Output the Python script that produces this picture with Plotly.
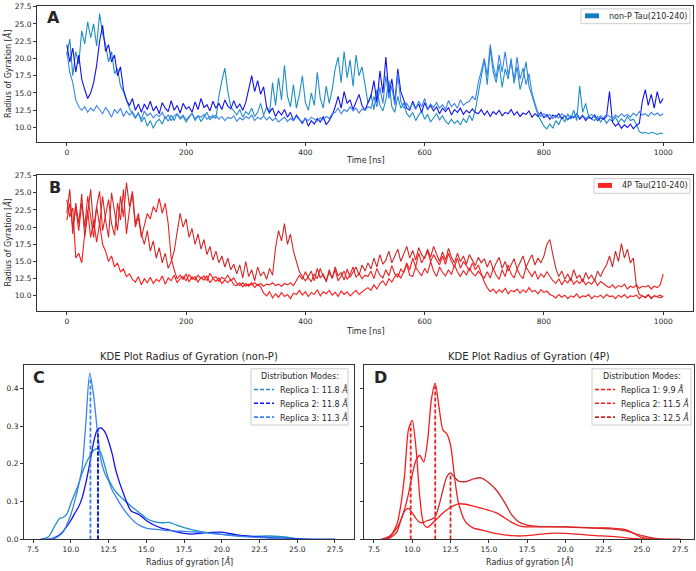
import numpy as np
import plotly.graph_objects as go

W, H = 696, 571

# ---------------- data ----------------
# non-P Tau(210-240): radius of gyration (Å), one value every 5 ns from 0 to 1000 ns
nonp_rep1 = [20.5, 22.8, 17.5, 21.0, 19.2, 24.0, 22.1, 25.3, 23.0, 25.0, 21.8, 26.5, 23.6,
             22.0, 19.5, 21.0, 17.8, 18.5, 16.0, 15.2, 14.0,
             12.8, 12.0, 11.3, 12.2, 10.8, 11.5, 10.2, 11.0, 9.9, 10.8,
             11.2, 10.5, 11.6, 10.9, 11.8, 11.0, 12.0, 11.2, 11.6, 10.8, 11.4, 12.1, 11.0, 11.7, 10.9, 11.5, 12.2, 11.1, 11.8, 11.3,
             14.5, 16.8, 18.6, 15.2, 13.0, 12.4,
             11.8, 12.6, 11.5, 12.3, 11.9, 12.8, 11.6, 12.2, 13.5, 11.8, 12.9, 12.0,
             16.5, 13.2, 17.2, 14.0, 19.0, 14.5, 13.0, 16.2, 12.8, 14.8, 17.5, 13.6, 12.5, 15.0, 13.2, 18.0, 14.2, 12.8, 16.0, 13.5, 15.5,
             18.5, 20.2, 16.5, 21.0, 17.2, 19.8, 16.0, 20.5, 17.5, 18.8, 16.2,
             13.5, 14.8, 12.6, 15.5, 13.2, 12.4, 14.0, 16.8, 13.0, 12.2, 14.5, 12.8, 13.6, 12.0,
             11.5, 12.2, 11.0, 11.8, 12.4, 11.2, 11.9, 10.8, 11.5, 12.0, 11.1, 11.7, 10.9, 10.5, 11.2, 10.6, 11.0, 10.4, 11.3, 10.7, 11.8, 11.0, 12.5,
             15.0, 17.5, 19.8, 16.2, 21.5, 18.0, 16.5, 19.2, 15.8, 18.5, 17.0, 20.0, 16.4, 18.8, 15.5, 17.2, 19.5, 16.0, 14.5, 13.0,
             11.8, 11.0, 10.2, 9.8, 10.5, 9.9, 11.0, 10.4, 11.5, 10.8, 12.0, 11.2, 12.5, 11.0, 16.0, 12.2, 13.5, 11.6, 11.2,
             11.0, 11.6, 10.8, 11.4, 10.6, 11.2, 10.9, 11.5, 10.7, 11.3, 10.8, 11.6, 11.0, 11.2, 10.5,
             9.4, 9.2, 9.3, 9.1, 9.3, 9.2, 9.0, 9.2, 9.1]

nonp_rep2 = [22.0, 19.5, 21.5, 18.0, 20.5,
             17.0, 15.5, 14.2, 15.0, 16.5, 19.0,
             22.5, 24.8, 21.0, 22.0, 19.5, 20.5, 17.5, 18.8,
             15.5, 14.0, 13.2, 14.2, 12.5, 13.4,
             12.2, 13.4, 12.6, 13.8, 12.4, 13.1, 12.0, 13.6, 12.8, 12.3, 13.9, 12.5, 13.2, 12.1, 13.5, 12.7, 13.0, 12.2,
             13.7, 12.6, 14.2, 12.9, 13.3, 12.4, 13.8, 12.8, 13.5, 12.6, 14.0, 13.1, 12.7, 13.9, 12.8, 13.4, 12.5, 13.6,
             15.5, 17.5, 15.2, 16.8, 14.8, 15.9,
             13.0, 12.2, 12.8, 11.6, 12.4, 11.8, 12.6, 11.5, 12.2, 11.0, 11.8,
             11.2, 10.6, 11.4, 10.2, 11.0, 10.5, 11.3, 10.8, 11.6, 10.4, 11.0, 11.8,
             13.0, 14.5, 12.8, 15.2, 13.5, 14.0, 12.6, 13.8, 14.8, 13.2, 12.5, 13.6,
             14.5, 16.8, 13.6, 18.2, 15.0, 20.2, 14.8, 17.0, 13.5, 18.5, 15.2, 14.0, 12.8,
             12.5, 13.8, 12.8, 13.4, 12.2, 13.6, 12.6, 13.2, 12.4, 13.0, 12.0, 12.8, 12.3, 12.9, 11.8, 12.6, 12.2, 12.8, 11.9, 12.5, 12.1, 12.7, 12.2,
             12.0, 12.6, 11.8, 12.4, 11.6, 12.3, 11.9, 12.5, 11.7, 12.2, 12.0, 12.6, 11.8, 12.3, 11.6, 12.1, 11.9, 12.4, 11.5, 12.0,
             11.6, 12.2, 11.4, 11.9, 11.2, 11.8, 11.5, 12.0, 11.3, 11.7, 11.1, 11.6, 11.4, 12.0, 11.2, 11.7, 11.0, 11.5, 11.3, 11.8, 11.0, 11.4, 11.2, 11.6, 15.2,
             10.8, 10.2, 10.6, 9.9, 10.4, 10.0, 10.5, 9.8, 10.3, 10.6,
             13.8, 15.5, 13.2, 14.8, 12.8, 15.2, 13.5, 14.2]

nonp_rep3 = [21.0, 18.0, 16.5, 14.0, 13.0,
             12.5, 13.0, 12.2, 12.8, 12.4, 13.2, 12.6, 12.0, 12.9, 12.3, 11.5, 12.6, 12.1, 12.8, 11.6, 12.4,
             11.8, 12.3, 11.5, 12.0, 11.2, 12.4, 11.7, 12.1, 11.4, 11.9, 11.6, 12.2, 11.3, 11.8, 11.0,
             11.7, 12.0, 11.4, 11.8, 11.1, 11.6, 12.0, 11.3, 11.7, 11.5, 11.9, 11.2, 11.6, 11.4, 11.8,
             11.2, 11.6, 11.0, 11.5, 11.3, 11.7, 10.9, 11.4, 11.1, 11.6, 11.3, 11.8, 11.0, 11.5, 11.2, 11.7, 11.1, 11.5,
             11.0, 11.4, 10.8, 11.2, 11.5, 10.9, 11.3, 11.0, 11.6, 11.1, 10.8, 11.3, 11.0, 11.5, 11.2, 10.9, 11.4, 11.1, 11.6, 11.3, 12.0,
             12.2, 12.8, 12.0, 12.6, 12.3, 13.0, 12.4, 12.8, 12.1, 12.7, 12.5, 13.0,
             12.8, 14.5, 13.0, 15.8, 13.5, 17.5, 14.2, 16.0, 13.2, 17.8, 13.8, 12.8, 13.5,
             12.8, 13.5, 12.6, 13.8, 13.0, 14.2, 12.7, 13.4, 12.9, 13.6, 12.8, 13.3, 12.6, 13.9, 13.0, 13.5, 12.8, 14.0, 13.2, 13.6, 13.8, 14.5, 14.0,
             16.5, 18.2, 20.0, 17.5, 22.0, 19.0, 17.2, 20.5, 18.0, 21.0, 17.6, 19.5, 16.8, 20.2, 17.0, 18.6, 16.2, 17.8, 15.0, 13.5,
             12.2, 11.6, 12.0, 11.5, 11.9, 11.3, 11.8, 11.4, 12.0, 11.6, 11.2, 11.7, 11.5, 12.0, 11.4, 11.8, 11.3, 11.6, 11.9, 11.5,
             11.2, 11.7, 11.4, 11.9, 11.6, 11.3, 11.8, 11.5, 12.0, 11.6, 11.9, 11.5, 12.1, 11.7, 12.3, 11.8, 12.0, 11.6, 12.2, 11.8,
             12.1, 11.7, 12.0]

# 4P Tau(210-240)
p4_rep1 = [24.0, 21.5, 22.8,
           15.5, 16.2, 14.8,
           19.0, 22.5, 18.5, 21.0, 17.8, 20.5, 17.5,
           16.5, 15.0, 15.8, 14.2, 14.8, 13.5, 13.9, 12.8, 13.2, 12.4,
           12.0, 12.8, 11.6, 12.5, 11.9, 12.7, 11.8, 12.4, 12.1, 12.9, 11.7, 12.6, 12.2, 13.0, 11.9, 12.5, 12.8,
           12.2, 13.1, 12.4, 12.8, 12.0, 12.7, 12.3, 12.9, 11.9, 12.5, 12.1, 12.6, 11.8, 12.3, 11.9, 12.4, 11.6,
           11.5, 11.9, 11.3, 11.8, 11.4, 11.9, 11.2, 11.7, 11.3,
           10.4, 10.0, 10.6, 9.7, 10.3, 9.8, 10.5, 9.9, 10.2, 9.6, 10.4,
           10.2, 10.8, 10.1, 10.6, 9.9, 10.5, 10.2, 10.9, 10.0, 10.6, 10.3, 10.8, 10.1, 10.5, 9.9, 10.7, 10.2, 10.6,
           10.0, 10.4, 10.8, 10.2, 10.6, 10.9,
           11.2, 10.8, 11.6, 11.0, 11.8, 12.2, 11.5, 12.5, 12.0, 12.8, 13.2, 12.6,
           13.5, 14.8, 13.8, 15.5, 14.2, 16.2, 14.8, 15.6, 16.5, 15.0, 16.0, 15.2, 14.5, 15.8, 14.6, 16.2, 15.0, 14.2,
           15.5, 14.0, 15.0, 14.4, 13.6, 14.8, 13.8, 14.5, 13.2, 12.0,
           11.2, 10.6, 11.0, 10.4, 10.9, 10.5, 11.1, 10.3, 10.8, 10.6, 11.0, 10.4, 10.9, 10.5, 11.2, 10.6, 10.8, 10.3,
           10.9, 10.5, 10.7, 10.2,
           10.0, 9.7, 10.2, 9.8, 10.1, 9.6, 10.0, 9.8, 10.3, 9.7, 10.0, 9.9, 10.2, 9.6, 10.0, 9.8, 10.1, 9.7, 10.2,
           9.9, 10.0, 9.6, 10.1, 9.8, 10.2, 9.7, 10.0, 9.9, 10.1, 9.6, 10.0, 9.8, 10.2, 9.7, 10.0, 9.9, 10.1, 9.8]

p4_rep2 = [21.0, 23.5, 20.0, 22.8, 19.5,
           23.5, 20.0, 24.5, 21.5, 18.5, 23.0, 25.2, 19.5, 22.0, 24.0, 20.5, 18.8, 23.5, 21.0, 25.5, 19.0, 22.5, 24.8, 20.0, 21.5,
           18.5, 20.5, 22.0, 21.2, 23.0, 22.2, 24.2, 22.0, 23.5, 20.5,
           15.5, 13.8, 12.5, 13.0,
           12.4, 13.2, 12.0, 12.8, 12.3, 13.0, 12.5, 12.9, 12.2, 13.3, 12.6, 12.8, 12.1, 12.7, 12.4, 13.0, 12.2, 12.6,
           11.8, 11.5, 11.9, 11.4, 11.7, 11.6, 11.9, 11.5, 11.8, 11.4, 11.7, 11.6, 11.9, 11.5, 11.7, 11.4, 11.8, 11.6, 11.9, 11.5,
           12.2, 13.0, 12.4, 13.5, 12.6, 12.1, 13.2, 12.5, 14.0, 12.8, 12.3, 13.4, 12.6, 13.8, 12.2, 12.9, 13.6, 12.4,
           13.1, 14.2, 12.7, 13.3, 12.5, 13.0,
           12.8, 13.6, 12.5, 14.0, 13.0, 12.6, 13.8, 12.9, 14.4, 13.2, 12.7, 13.9, 13.4, 14.6, 13.0, 12.8, 14.2, 13.5,
           12.9, 14.0, 13.3, 15.0, 13.6, 12.8, 14.2, 13.4, 12.9, 13.8, 13.1, 14.5, 13.5, 12.8, 13.7, 13.0, 14.1, 13.3,
           12.9, 13.6, 13.0, 12.6,
           13.5, 12.6, 14.0, 13.0, 12.4, 13.8, 12.8, 14.5, 13.2, 12.6, 13.9, 13.0, 12.5, 14.2, 13.4, 12.8, 13.6, 12.4,
           13.2, 12.7, 13.5, 12.8,
           12.2, 11.8, 12.5, 11.6, 12.3, 11.9, 12.6, 11.7, 12.2, 11.8, 12.4, 11.6, 12.0, 11.7, 12.3, 11.5, 12.1, 11.8,
           11.4, 11.2, 11.6, 11.1, 11.5, 11.3, 11.7, 11.0, 11.4, 11.2, 11.6, 11.1, 11.4, 11.3, 11.5, 11.0, 11.4, 11.2,
           11.6, 13.2]

p4_rep3 = [22.0, 25.5, 19.0, 23.5, 20.5, 24.8, 18.5, 22.0, 25.5, 19.8, 23.0, 20.2, 24.5, 21.0, 18.5, 25.0, 22.0,
           19.5, 24.5, 21.5, 26.5,
           23.0, 25.2, 20.5, 22.0, 19.0, 17.5, 19.5, 16.5, 18.0, 15.5, 17.0, 14.8, 16.2, 14.0, 15.0, 16.5,
           19.0, 22.0, 20.0, 21.2, 18.5, 19.8, 17.5, 19.0, 16.8, 18.2,
           16.0, 17.2, 15.2, 16.5, 14.8, 15.8, 14.2, 15.5, 13.8, 14.6,
           13.2, 14.5, 12.6, 15.0, 12.8, 13.8, 12.2, 14.2, 12.9, 13.5, 12.4, 14.0, 13.0,
           17.0, 19.5, 18.0, 20.5, 17.5, 19.0, 16.5,
           15.0, 13.5, 12.8, 12.2,
           12.8, 13.6, 12.2, 14.0, 12.6, 13.2, 12.0, 13.8, 12.5, 14.2, 12.9, 13.4, 12.3, 13.9, 12.7, 13.5, 14.2,
           13.0, 14.5, 13.6,
           14.8, 13.9, 15.5, 14.2, 16.0, 14.6, 15.2, 16.5, 14.8, 15.8, 16.8, 15.0, 16.2, 17.2, 15.5, 16.6, 15.2,
           17.0, 16.0, 15.4, 16.8, 15.6, 17.2, 16.2, 15.0, 16.4, 15.2, 16.9, 15.6, 14.8, 16.2, 15.0, 15.8, 14.6,
           16.0, 15.2, 14.4, 15.6, 14.8, 15.4,
           14.2, 15.2, 13.8, 14.8, 15.6, 14.0, 15.0, 13.6, 14.6, 15.4, 13.9, 14.8, 15.8, 14.2, 15.0, 16.0, 14.5,
           15.5, 14.8, 15.8,
           17.5, 18.2, 16.0,
           14.0, 12.8, 13.6, 12.4, 13.2, 12.2, 13.8, 12.6, 13.0, 12.0, 13.4, 12.5, 13.0, 12.2, 13.6, 12.8, 13.8,
           14.5, 15.8, 14.2, 16.5, 15.0, 17.6, 15.5, 16.8, 14.8, 15.5,
           11.5, 10.2, 10.0, 9.7, 10.1, 9.6, 10.0, 9.8, 9.7, 10.0]

# KDE of radius of gyration (density vs Å)
kde_x = [8.0, 8.5, 9.0, 9.25, 9.5, 9.75, 10.0, 10.25, 10.5, 10.75, 11.0, 11.25, 11.5, 11.75,
         12.0, 12.25, 12.5, 12.75, 13.0, 13.5, 14.0, 14.5, 15.0, 15.5, 16.0, 16.5, 17.0, 17.5,
         18.0, 19.0, 20.0, 21.0, 22.0, 23.0, 24.0, 25.0, 26.0, 27.5]

kde_nonp_rep1 = [0.0, 0.006, 0.04, 0.055, 0.058, 0.068, 0.095, 0.12, 0.145, 0.175, 0.2, 0.22, 0.235, 0.24,
                 0.228, 0.195, 0.16, 0.14, 0.125, 0.105, 0.088, 0.072, 0.056, 0.047, 0.044, 0.045, 0.038, 0.031,
                 0.026, 0.018, 0.013, 0.01, 0.008, 0.009, 0.007, 0.002, 0.0, 0.0]
kde_nonp_rep2 = [0.0, 0.0, 0.006, 0.012, 0.022, 0.035, 0.05, 0.068, 0.085, 0.11, 0.15, 0.2, 0.255, 0.29,
                 0.295, 0.285, 0.26, 0.225, 0.18, 0.12, 0.075, 0.066, 0.05, 0.038, 0.03, 0.025, 0.02, 0.016,
                 0.014, 0.018, 0.019, 0.012, 0.008, 0.005, 0.003, 0.001, 0.0, 0.0]
kde_nonp_rep3 = [0.0, 0.0, 0.004, 0.01, 0.02, 0.04, 0.065, 0.1, 0.14, 0.19, 0.31, 0.44, 0.385, 0.29,
                 0.21, 0.175, 0.155, 0.13, 0.112, 0.08, 0.055, 0.038, 0.03, 0.027, 0.025, 0.023, 0.022, 0.021,
                 0.02, 0.018, 0.013, 0.009, 0.006, 0.004, 0.002, 0.0, 0.0, 0.0]

kde_4p_rep1 = [0.0, 0.005, 0.04, 0.09, 0.17, 0.29, 0.315, 0.24, 0.11, 0.04, 0.032, 0.04, 0.05, 0.06,
               0.07, 0.078, 0.085, 0.09, 0.094, 0.093, 0.088, 0.083, 0.077, 0.07, 0.058, 0.045, 0.036, 0.033,
               0.033, 0.034, 0.033, 0.031, 0.03, 0.03, 0.025, 0.005, 0.0, 0.0]
kde_4p_rep2 = [0.0, 0.008, 0.03, 0.05, 0.08, 0.12, 0.17, 0.21, 0.222, 0.205, 0.26, 0.37, 0.413, 0.35,
               0.29, 0.28, 0.25, 0.17, 0.1, 0.045, 0.03, 0.025, 0.02, 0.015, 0.012, 0.01, 0.009, 0.01,
               0.012, 0.016, 0.016, 0.013, 0.01, 0.008, 0.004, 0.001, 0.0, 0.0]
kde_4p_rep3 = [0.0, 0.003, 0.02, 0.05, 0.075, 0.082, 0.07, 0.055, 0.045, 0.045, 0.05, 0.053, 0.06, 0.09,
               0.13, 0.165, 0.176, 0.165, 0.155, 0.153, 0.16, 0.163, 0.15, 0.13, 0.1, 0.065, 0.045, 0.038,
               0.035, 0.033, 0.033, 0.032, 0.03, 0.028, 0.022, 0.01, 0.002, 0.0]

modes_nonp = [11.8, 11.8, 11.3]
modes_4p = [9.9, 11.5, 12.5]

replica_names = ["Replica 1", "Replica 2", "Replica 3"]
time_ticks = [0, 200, 400, 600, 800, 1000]
rg_ticks = [10.0, 12.5, 15.0, 17.5, 20.0, 22.5, 25.0, 27.5]
kde_xticks = [7.5, 10.0, 12.5, 15.0, 17.5, 20.0, 22.5, 25.0, 27.5]
density_ticks = [0.0, 0.1, 0.2, 0.3, 0.4]

# ---------------- styling ----------------
colors_nonp = ["#1f8fc4", "#1212ee", "#3a82f0"]
colors_4p = ["#ff1a1a", "#f02020", "#d02828"]
FONT = "DejaVu Sans"
TXT = "#262626"
AX = "#333333"


def px(x):
    return x / W


def py(y):
    return 1 - y / H


fig = go.Figure()

# time series A
for vals, c in zip([nonp_rep1, nonp_rep2, nonp_rep3], colors_nonp):
    t = np.linspace(0, 1000, len(vals))
    fig.add_trace(go.Scatter(x=t, y=vals, mode="lines", line=dict(color=c, width=1.1),
                             xaxis="x", yaxis="y", showlegend=False, hoverinfo="skip"))
# time series B
for vals, c in zip([p4_rep1, p4_rep2, p4_rep3], colors_4p):
    t = np.linspace(0, 1000, len(vals))
    fig.add_trace(go.Scatter(x=t, y=vals, mode="lines", line=dict(color=c, width=1.1),
                             xaxis="x2", yaxis="y2", showlegend=False, hoverinfo="skip"))

# KDE C and D
for curves, modes, cols, xa, ya in [
        ([kde_nonp_rep1, kde_nonp_rep2, kde_nonp_rep3], modes_nonp, colors_nonp, "x3", "y3"),
        ([kde_4p_rep1, kde_4p_rep2, kde_4p_rep3], modes_4p, colors_4p, "x4", "y4")]:
    for dens, c in zip(curves, cols):
        fig.add_trace(go.Scatter(x=kde_x, y=dens, mode="lines",
                                 line=dict(color=c, width=1.3, shape="spline", smoothing=0.7),
                                 xaxis=xa, yaxis=ya, showlegend=False, hoverinfo="skip"))
    for dens, m, c in zip(curves, modes, cols):
        peak = float(np.interp(m, kde_x, dens))
        fig.add_trace(go.Scatter(x=[m, m], y=[0, peak], mode="lines",
                                 line=dict(color=c, width=1.8, dash="4px,2px"),
                                 xaxis=xa, yaxis=ya, showlegend=False, hoverinfo="skip"))

axis_common = dict(showline=True, linecolor=AX, linewidth=1, mirror=True, ticks="outside",
                   ticklen=3, tickwidth=1, tickcolor=AX, showgrid=False, zeroline=False,
                   tickfont=dict(family=FONT, size=7.5, color=TXT))

A_dom_x = [px(37), px(693)]
fig.update_layout(
    width=W, height=H, margin=dict(l=0, r=0, t=0, b=0), autosize=False,
    paper_bgcolor="white", plot_bgcolor="white",
    xaxis=dict(domain=A_dom_x, range=[-50, 1050], tickvals=time_ticks, anchor="y", **axis_common),
    yaxis=dict(domain=[py(141), py(3)], range=[7.9, 27.6], tickvals=rg_ticks, tickformat=".1f",
               anchor="x", **axis_common),
    xaxis2=dict(domain=A_dom_x, range=[-50, 1050], tickvals=time_ticks, anchor="y2", **axis_common),
    yaxis2=dict(domain=[py(312), py(174)], range=[7.85, 27.65], tickvals=rg_ticks, tickformat=".1f",
                anchor="x2", **axis_common),
    xaxis3=dict(domain=[px(24), px(354)], range=[6.9, 28.76], tickvals=kde_xticks, tickformat=".1f",
                anchor="y3", **axis_common),
    yaxis3=dict(domain=[py(544), py(367)], range=[0, 0.462], tickvals=density_ticks, tickformat=".1f",
                anchor="x3", **axis_common),
    xaxis4=dict(domain=[px(364), px(694)], range=[6.85, 28.4], tickvals=kde_xticks, tickformat=".1f",
                anchor="y4", **axis_common),
    yaxis4=dict(domain=[py(544), py(367)], range=[0, 0.462], tickvals=density_ticks,
                showticklabels=False, anchor="x4", **axis_common),
)

ann = []
shapes = []


def text(x, y, s, size=8, xanchor="center", angle=0, bold=False):
    ann.append(dict(x=px(x), y=py(y), xref="paper", yref="paper", text=f"<b>{s}</b>" if bold else s,
                    showarrow=False, xanchor=xanchor, yanchor="middle", textangle=angle,
                    font=dict(family=FONT, size=size, color=TXT)))


# axis titles
text(365, 160, "Time [ns]")
text(365, 333, "Time [ns]")
text(8, 72, "Radius of Gyration [<i>Å</i>]", angle=-90)
text(8, 243, "Radius of Gyration [<i>Å</i>]", angle=-90)
text(189, 566, "Radius of gyration [<i>Å</i>]")
text(529, 566, "Radius of gyration [<i>Å</i>]")
# titles
text(189, 359, "KDE Plot Radius of Gyration (non-P)", size=10)
text(529, 359, "KDE Plot Radius of Gyration (4P)", size=10)
# panel letters
text(45, 15, "A", size=16, xanchor="left", bold=True)
text(47, 187, "B", size=16, xanchor="left", bold=True)
text(31, 380, "C", size=16, xanchor="left", bold=True)
text(372, 380, "D", size=16, xanchor="left", bold=True)


def rect(x0, y0, x1, y1, fill, line):
    shapes.append(dict(type="rect", xref="paper", yref="paper", x0=px(x0), x1=px(x1), y0=py(y1), y1=py(y0),
                       fillcolor=fill, line=dict(color=line, width=1 if line else 0), layer="above"))


# legends for time series
rect(581, 6, 690, 21, "rgba(255,255,255,0.85)", "#cccccc")
rect(585, 10.5, 599, 15.5, "#127dc0", None)
text(607, 13.5, "non-P Tau(210-240)", size=8, xanchor="left")
rect(594, 178, 690, 193, "rgba(255,255,255,0.85)", "#cccccc")
rect(598, 182.5, 612, 187.5, "#ff2222", None)
text(620, 185.5, "4P Tau(210-240)", size=8, xanchor="left")

# legends for KDE
for (bx0, bx1, lx0, lx1, tx), modes, cols in [((251, 348, 254, 274, 278), modes_nonp, colors_nonp),
                                              ((592, 691, 595, 615, 619), modes_4p, colors_4p)]:
    rect(bx0, 371, bx1, 428, "rgba(255,255,255,0.85)", "#cccccc")
    text((bx0 + bx1) / 2, 378.5, "Distribution Modes:", size=8)
    for i, (m, c, name) in enumerate(zip(modes, cols, replica_names)):
        yy = 392 + 14 * i
        shapes.append(dict(type="line", xref="paper", yref="paper", x0=px(lx0), x1=px(lx1),
                           y0=py(yy), y1=py(yy), line=dict(color=c, width=1.6, dash="4px,2px"),
                           layer="above"))
        text(tx, yy, f"{name}: {m:.1f} <i>Å</i>", size=8, xanchor="left")

fig.update_layout(annotations=ann, shapes=shapes)
fig.write_html("out.html")
